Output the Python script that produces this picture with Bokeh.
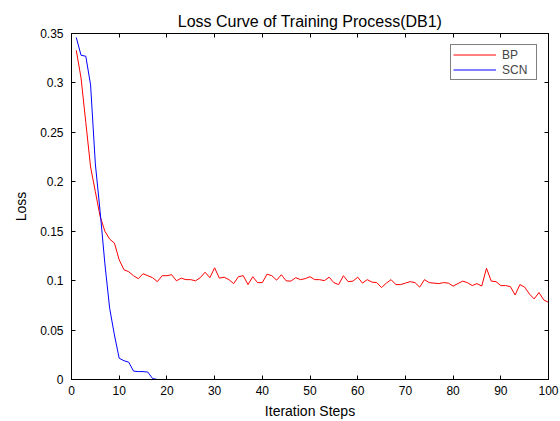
from bokeh.plotting import figure
from bokeh.models import Range1d, LinearAxis, FixedTicker, Legend, LegendItem, CustomJSTickFormatter
from bokeh.embed import file_html
from bokeh.resources import INLINE

steps = list(range(1, 101))
bp_loss = [0.333, 0.305, 0.26, 0.215, 0.19, 0.165, 0.15, 0.142, 0.138, 0.121,
           0.111, 0.109, 0.105, 0.102, 0.107, 0.105, 0.103, 0.099, 0.105, 0.105,
           0.106, 0.0998, 0.1025, 0.101, 0.101, 0.0998, 0.103, 0.1085, 0.103, 0.113,
           0.1025, 0.1035, 0.101, 0.097, 0.104, 0.105, 0.096, 0.104, 0.098, 0.098,
           0.1065, 0.105, 0.1005, 0.106, 0.0998, 0.0995, 0.103, 0.101, 0.102, 0.104,
           0.101, 0.101, 0.100, 0.1035, 0.098, 0.096, 0.105, 0.099, 0.0995, 0.1035,
           0.0975, 0.101, 0.0985, 0.098, 0.093, 0.0975, 0.101, 0.096, 0.096, 0.0975,
           0.099, 0.098, 0.0935, 0.101, 0.098, 0.0975, 0.097, 0.098, 0.0975, 0.0945,
           0.097, 0.0995, 0.098, 0.095, 0.097, 0.0945, 0.1125, 0.0995, 0.099, 0.095,
           0.095, 0.094, 0.0855, 0.096, 0.0935, 0.0865, 0.0815, 0.088, 0.0805, 0.078]
scn_loss = [0.346, 0.328, 0.327, 0.298, 0.218, 0.17, 0.117, 0.072, 0.045, 0.0215,
            0.019, 0.0175, 0.0085, 0.008, 0.008, 0.0075, 0.001] + [0.0] * 83

x_ticks = [0, 10, 20, 30, 40, 50, 60, 70, 80, 90, 100]
y_ticks = [0, 0.05, 0.1, 0.15, 0.2, 0.25, 0.3, 0.35]
y_tick_labels = ["0", "0.05", "0.1", "0.15", "0.2", "0.25", "0.3", "0.35"]

FONT = "Liberation Sans"

p = figure(width=560, height=421, output_backend="svg", toolbar_location=None,
           x_range=Range1d(0, 100), y_range=Range1d(0, 0.35),
           min_border_left=71, min_border_right=12, min_border_top=33, min_border_bottom=42,
           title="Loss Curve of Training Process(DB1)")
p.title.align = "center"
p.title.text_font = FONT
p.title.text_font_size = "16px"
p.title.text_font_style = "normal"
p.title.text_color = "#000000"
p.title.standoff = 8

p.xgrid.visible = False
p.ygrid.visible = False
p.outline_line_color = "#000000"
p.outline_line_width = 1
p.background_fill_color = "#ffffff"
p.border_fill_color = "#ffffff"

def style_axis(ax):
    ax.axis_line_color = "#000000"
    ax.major_tick_in = 4
    ax.major_tick_out = 0
    ax.minor_tick_line_color = None
    ax.major_tick_line_color = "#000000"
    ax.major_label_text_font = FONT
    ax.major_label_text_font_size = "12px"
    ax.major_label_text_color = "#000000"
    ax.axis_label_text_font = FONT
    ax.axis_label_text_font_size = "14px"
    ax.axis_label_text_font_style = "normal"
    ax.axis_label_text_color = "#000000"

p.xaxis.ticker = FixedTicker(ticks=x_ticks)
p.yaxis.ticker = FixedTicker(ticks=y_ticks)
p.yaxis.major_label_overrides = {t: l for t, l in zip(y_ticks, y_tick_labels)}
p.xaxis.axis_label = "Iteration Steps"
p.yaxis.axis_label = "Loss"
style_axis(p.xaxis[0])
style_axis(p.yaxis[0])
p.xaxis.major_label_standoff = 6
p.yaxis.major_label_standoff = 8
p.xaxis.axis_label_standoff = 5
p.yaxis.axis_label_standoff = 8

blank = CustomJSTickFormatter(code="return '';")
top_ax = LinearAxis(ticker=FixedTicker(ticks=x_ticks), formatter=blank)
right_ax = LinearAxis(ticker=FixedTicker(ticks=y_ticks), formatter=blank)
style_axis(top_ax)
style_axis(right_ax)
top_ax.major_label_standoff = 0
right_ax.major_label_standoff = 0
p.add_layout(top_ax, "above")
p.add_layout(right_ax, "right")

r_bp = p.line(steps, bp_loss, line_color="#ff0000", line_width=1)
r_scn = p.line(steps, scn_loss, line_color="#0000ff", line_width=1)

legend = Legend(items=[LegendItem(label="BP", renderers=[r_bp]),
                       LegendItem(label="SCN", renderers=[r_scn])],
                location="top_right")
legend.label_text_font = FONT
legend.label_text_font_size = "12px"
legend.border_line_color = "#000000"
legend.border_line_width = 1
legend.glyph_width = 43
legend.glyph_height = 15
legend.label_height = 15
legend.label_width = 32
legend.spacing = 0
legend.padding = 2
legend.margin = 11
legend.label_standoff = 6
legend.background_fill_alpha = 1.0
p.add_layout(legend)

open("out.html", "w").write(file_html(p, INLINE))
